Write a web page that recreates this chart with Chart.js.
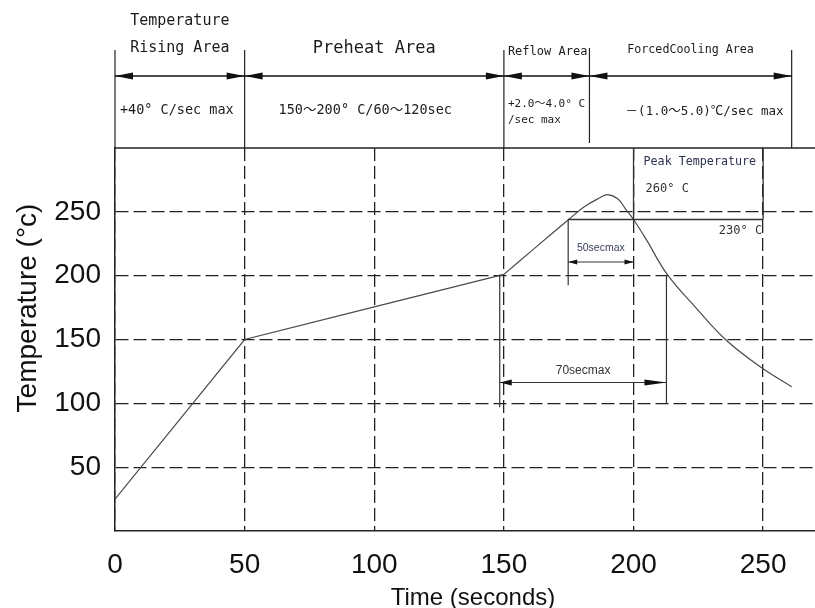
<!DOCTYPE html>
<html>
<head>
<meta charset="utf-8">
<script src="https://cdn.jsdelivr.net/npm/chart.js@4"></script>
<style>
  body { margin: 0; background: #fff; }
</style>
</head>
<body>
<canvas id="c" width="815" height="608"></canvas>
<script>
// straight part of the reflow profile (time s, temp °C)
const rampTime = [0, 50, 100, 150];
const rampTemp = [25, 150, 175.5, 201];
// curved part: reflow peak and cooling
const reflowTime = [150, 161, 175, 181, 187, 190, 194, 197, 200, 205, 213, 224, 236, 250, 261];
const reflowTemp = [201, 220, 244, 254, 261, 263.5, 260, 252, 244, 228, 201, 175, 149, 127, 113];

const xTicks = [0, 50, 100, 150, 200, 250];
const yTicks = [50, 100, 150, 200, 250];

// zones drawn above the plot
const zoneEdges = [0, 50, 150, 183, 261];
const zoneTitles = [['Temperature', 'Rising Area'], ['Preheat Area'], ['Reflow Area'], ['ForcedCooling Area']];
const zoneRates = [['+40° C/sec max'], ['150～200° C/60～120sec'], ['+2.0～4.0° C', '/sec max'], ['－(1.0～5.0)℃/sec max']];

// marks inside the plot, in data units
const liquidusTemp = 244;          // line labelled 230° C
const liquidusFrom = 174.8;
const peakBox = [200, 250];
const win50 = [174.8, 200], win50Temp = 210.7, win50Low = 192.5;
const win70 = [148.4, 212.7], win70Temp = 116.3, win70Low = [97, 100], win70Top = [201, 200.7];

const MONO = '"DejaVu Sans Mono", "Noto Sans CJK SC", monospace';
const SANS = '"Liberation Sans", Arial, sans-serif';

function seg(ctx, x1, y1, x2, y2, w) {
  ctx.lineWidth = w;
  ctx.beginPath();
  ctx.moveTo(x1, y1);
  ctx.lineTo(x2, y2);
  ctx.stroke();
}

function head(ctx, tx, ty, dir, len, half) {
  ctx.fillStyle = '#111';
  ctx.beginPath();
  ctx.moveTo(tx, ty);
  ctx.lineTo(tx - dir * len, ty - half);
  ctx.lineTo(tx - dir * len, ty + half);
  ctx.closePath();
  ctx.fill();
}

function text(ctx, s, x, y, size, align, font, color) {
  ctx.font = size + 'px ' + (font || MONO);
  ctx.textAlign = align || 'center';
  ctx.textBaseline = 'middle';
  ctx.fillStyle = color || '#1c1c1c';
  ctx.fillText(s, x, y);
}

const annotate = {
  id: 'annotate',
  afterDraw(chart) {
    const { ctx, chartArea: a, scales: { x, y } } = chart;
    ctx.save();
    ctx.strokeStyle = '#222';

    // frame top line
    seg(ctx, a.left, a.top, chart.width, a.top, 1.5);

    // zone edges and arrows
    const ex = zoneEdges.map(v => x.getPixelForValue(v));
    ex.forEach((px, i) => seg(ctx, px, i === 3 ? 48 : 50, px, i === 3 ? 143 : a.top, 1.2));
    ctx.strokeStyle = '#111';
    for (let i = 0; i < ex.length - 1; i++) {
      seg(ctx, ex[i], 76, ex[i + 1], 76, 1.3);
      head(ctx, ex[i], 76, -1, 18, 3.5);
      head(ctx, ex[i + 1], 76, 1, 18, 3.5);
    }
    const mid = i => (ex[i] + ex[i + 1]) / 2;

    text(ctx, zoneTitles[0][0], mid(0), 21, 15);
    text(ctx, zoneTitles[0][1], mid(0), 48, 15);
    text(ctx, zoneTitles[1][0], mid(1), 49, 17);
    text(ctx, zoneTitles[2][0], ex[2] + 4, 52, 12, 'left');
    text(ctx, zoneTitles[3][0], mid(3), 50, 11.7);

    text(ctx, zoneRates[0][0], mid(0) - 3, 110, 13.5);
    text(ctx, zoneRates[1][0], mid(1) - 9, 110, 13.5);
    text(ctx, zoneRates[2][0], ex[2] + 4, 104, 11, 'left');
    text(ctx, zoneRates[2][1], ex[2] + 4, 120, 11, 'left');
    text(ctx, zoneRates[3][0], mid(3) + 14, 112, 12.5);

    // peak temperature box and liquidus line
    ctx.strokeStyle = '#333';
    const yl = y.getPixelForValue(liquidusTemp);
    seg(ctx, x.getPixelForValue(liquidusFrom), yl, x.getPixelForValue(peakBox[1]), yl, 1.3);
    peakBox.forEach(v => seg(ctx, x.getPixelForValue(v), a.top, x.getPixelForValue(v), yl, 1.3));
    const pb = x.getPixelForValue(peakBox[0]);
    text(ctx, 'Peak Temperature', pb + 10, 162, 11.7, 'left', MONO, '#2b3350');
    text(ctx, '260° C', pb + 12, 189, 12, 'left', MONO, '#333');
    text(ctx, '230° C', x.getPixelForValue(peakBox[1]) - 1, 231, 12, 'right', MONO, '#333');

    // 50 s window
    const a50 = x.getPixelForValue(win50[0]), b50 = x.getPixelForValue(win50[1]);
    const y50 = y.getPixelForValue(win50Temp);
    seg(ctx, a50, yl, a50, y.getPixelForValue(win50Low), 1.2);
    seg(ctx, a50, y50, b50, y50, 1);
    head(ctx, a50, y50, -1, 9, 2.5);
    head(ctx, b50, y50, 1, 9, 2.5);
    text(ctx, '50secmax', (a50 + b50) / 2, 248, 10.5, 'center', SANS, '#3a4260');

    // 70 s window
    const a70 = x.getPixelForValue(win70[0]), b70 = x.getPixelForValue(win70[1]);
    const y70 = y.getPixelForValue(win70Temp);
    seg(ctx, a70, y.getPixelForValue(win70Top[0]), a70, y.getPixelForValue(win70Low[0]), 1.2);
    seg(ctx, b70, y.getPixelForValue(win70Top[1]), b70, y.getPixelForValue(win70Low[1]), 1.2);
    seg(ctx, a70, y70, b70, y70, 1.2);
    head(ctx, a70, y70, -1, 12, 3);
    head(ctx, b70, y70, 1, 22, 3);
    text(ctx, '70secmax', (a70 + b70) / 2, 371, 12, 'center', SANS, '#333');

    // axis titles
    text(ctx, 'Time (seconds)', 473, 598, 24, 'center', SANS, '#111');
    ctx.translate(28, 308);
    ctx.rotate(-Math.PI / 2);
    text(ctx, 'Temperature (°c)', 0, 0, 28, 'center', SANS, '#111');
    ctx.restore();
  }
};

const toPoints = (xs, ys) => xs.map((t, i) => ({ x: t, y: ys[i] }));

new Chart(document.getElementById('c'), {
  type: 'line',
  data: {
    datasets: [{
      data: toPoints(rampTime, rampTemp),
      borderColor: '#4a4a4a',
      borderWidth: 1.2,
      pointRadius: 0,
      tension: 0
    }, {
      data: toPoints(reflowTime, reflowTemp),
      borderColor: '#4a4a4a',
      borderWidth: 1.2,
      pointRadius: 0,
      tension: 0.4
    }]
  },
  options: {
    responsive: false,
    animation: false,
    layout: { padding: { top: 148, left: 0, right: 0, bottom: 0 } },
    plugins: { legend: { display: false }, tooltip: { enabled: false } },
    scales: {
      x: {
        type: 'linear',
        min: 0,
        max: 270,
        afterBuildTicks: s => { s.ticks = xTicks.map(v => ({ value: v })); },
        afterFit: s => { s.height = 77; },
        grid: { color: '#222', lineWidth: 1.3, drawTicks: false },
        border: { display: true, color: '#222', width: 1.5, dash: [13, 5] },
        ticks: { padding: 17, color: '#111', font: { family: SANS, size: 28 }, maxRotation: 0, autoSkip: false }
      },
      y: {
        min: 0,
        max: 300,
        afterBuildTicks: s => { s.ticks = yTicks.map(v => ({ value: v })); },
        afterFit: s => { s.width = 115; },
        grid: { color: '#222', lineWidth: 1.3, drawTicks: false },
        border: { display: true, color: '#222', width: 1.5, dash: [13, 5] },
        ticks: { padding: 14, color: '#111', font: { family: SANS, size: 28 } }
      }
    }
  },
  plugins: [annotate]
});
</script>
</body>
</html>
